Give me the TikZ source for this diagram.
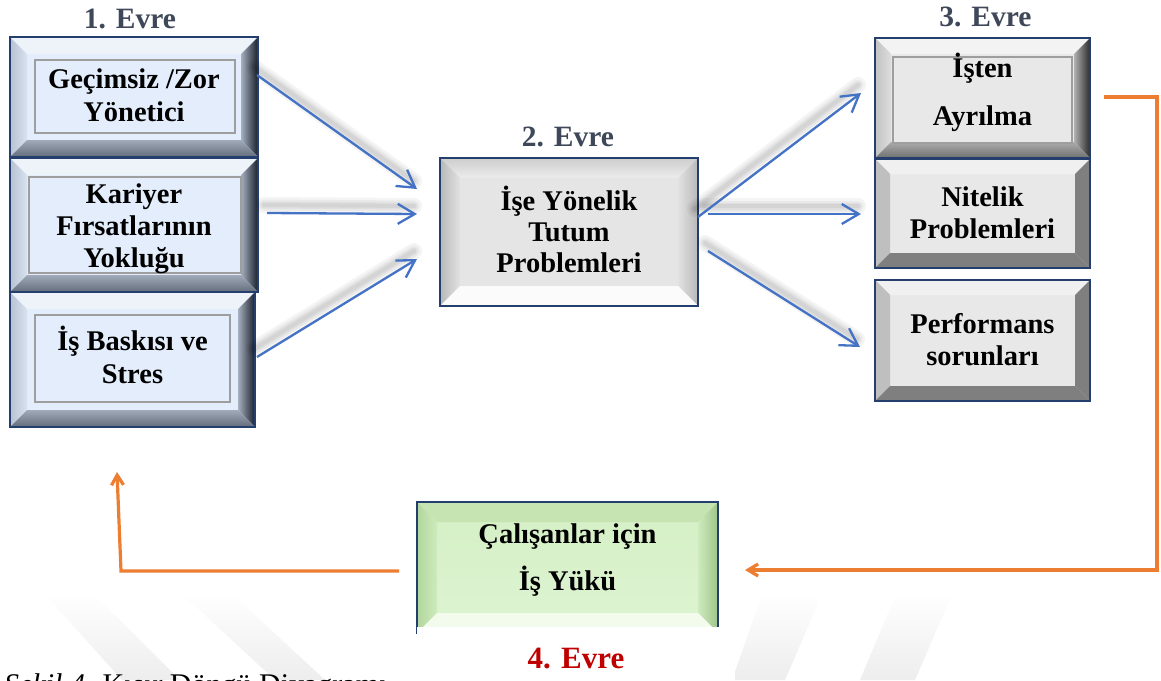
\documentclass[tikz,border=0pt]{standalone}
\usepackage{fontspec}
\setmainfont{Liberation Serif}
\usetikzlibrary{arrows.meta}

\definecolor{frame}{HTML}{243F6E}
\definecolor{flowblue}{HTML}{4472C4}
\definecolor{loopline}{HTML}{ED7D31}
\definecolor{phase}{HTML}{3E4859}
\definecolor{phasered}{HTML}{C00000}
\definecolor{paleblue}{HTML}{E3EDFB}
\definecolor{palegray}{HTML}{E8E8E8}
\definecolor{midgray}{HTML}{E5E5E5}
\definecolor{palegreen}{HTML}{D4EFC5}

\newcommand\boxfont{\fontsize{28.5}{32}\selectfont\bfseries}
\newcommand\phasefont{\fontsize{29.5}{34}\selectfont\bfseries}

% bevelled border: node, bevel width, top, left, right, bottom styles
\newcommand\bevel[6]{%
  \path[#3] (#1.north west) -- (#1.north east) -- ([shift={(-#2,#2)}]#1.north east) -- ([shift={(#2,#2)}]#1.north west) -- cycle;
  \path[#4] (#1.north west) -- ([shift={(#2,#2)}]#1.north west) -- ([shift={(#2,-#2)}]#1.south west) -- (#1.south west) -- cycle;
  \path[#5] (#1.north east) -- ([shift={(-#2,#2)}]#1.north east) -- ([shift={(-#2,-#2)}]#1.south east) -- (#1.south east) -- cycle;
  \path[#6] (#1.south west) -- ([shift={(#2,-#2)}]#1.south west) -- ([shift={(-#2,-#2)}]#1.south east) -- (#1.south east) -- cycle;
  \draw[frame, line width=2.2pt] (#1.north west) rectangle (#1.south east);
}

% soft shadow under a connector
\newcommand\hazeline[2]{%
  \foreach \w in {16,11,7,4}{%
    \draw[haze, line width=\w pt] ([shift={(-3,-8)}]#1) -- ([shift={(-3,-8)}]#2);}%
}

\tikzset{
  box/.style={inner sep=0pt, outer sep=0pt},
  boxtext/.style={inner sep=0pt, align=center, font=\boxfont, text=black},
  phasetext/.style={inner sep=0pt, anchor=base, font=\phasefont, text=phase},
  innerframe/.style={draw=black!38, line width=1.2pt},
  % bevel faces
  btop/.style={fill={rgb,255:red,238;green,243;blue,250}},
  bleft/.style={left color={rgb,255:red,183;green,194;blue,210}, right color={rgb,255:red,216;green,226;blue,240}},
  bright/.style={left color={rgb,255:red,165;green,175;blue,190}, right color={rgb,255:red,25;green,31;blue,44}},
  bbottom/.style={top color={rgb,255:red,160;green,170;blue,184}, bottom color={rgb,255:red,100;green,109;blue,124}},
  gtop/.style={fill={rgb,255:red,243;green,243;blue,243}},
  gleft/.style={left color={rgb,255:red,194;green,194;blue,194}, right color={rgb,255:red,221;green,221;blue,221}},
  gright/.style={left color={rgb,255:red,176;green,176;blue,176}, right color={rgb,255:red,43;green,43;blue,43}},
  gbottom/.style={top color={rgb,255:red,171;green,171;blue,171}, bottom color={rgb,255:red,112;green,112;blue,112}},
  ftop/.style={fill={rgb,255:red,240;green,240;blue,240}},
  fleft/.style={fill={rgb,255:red,191;green,191;blue,191}},
  fdark/.style={fill={rgb,255:red,127;green,127;blue,127}},
  mtop/.style={top color={rgb,255:red,205;green,205;blue,205}, bottom color={rgb,255:red,236;green,236;blue,236}},
  mleft/.style={left color={rgb,255:red,184;green,184;blue,184}, right color={rgb,255:red,226;green,226;blue,226}},
  mright/.style={left color={rgb,255:red,226;green,226;blue,226}, right color={rgb,255:red,184;green,184;blue,184}},
  mbottom/.style={fill={rgb,255:red,251;green,251;blue,251}},
  etop/.style={fill={rgb,255:red,198;green,228;blue,178}},
  eleft/.style={left color={rgb,255:red,178;green,214;blue,157}, right color={rgb,255:red,205;green,235;blue,189}},
  eright/.style={left color={rgb,255:red,205;green,235;blue,189}, right color={rgb,255:red,159;green,197;blue,138}},
  ebottom/.style={fill={rgb,255:red,242;green,251;blue,236}},
  flow/.style={draw=flowblue, line width=2.3pt, -{Straight Barb[length=17pt,width=20pt]}},
  feedback/.style={draw=loopline, line width=3.2pt, -{Straight Barb[length=10pt,width=12pt]}},
  haze/.style={draw=black, line cap=round, opacity=0.045},
  band/.style={top color=white, bottom color=black!7},
}

\begin{document}
\begin{tikzpicture}[x=1pt,y=-1pt]
\clip (0,0) rectangle (1161,680);
\fill[white] (0,0) rectangle (1161,680);

% faint background bands
\path[band] (43,592) -- (92,592) -- (180,680) -- (122,680) -- cycle;
\path[band] (180,592) -- (230,592) -- (325,680) -- (275,680) -- cycle;
\path[band] (763,592) -- (823,592) -- (785,680) -- (732,680) -- cycle;
\path[band] (897,592) -- (953,592) -- (915,680) -- (860,680) -- cycle;

% caption line at the foot
\node[inner sep=0pt, anchor=base west, font=\fontsize{30}{36}\selectfont] (caption) at (4,694) {\textit{Şekil 4.} Kısır Döngü Diyagramı};

% ---------- boxes ----------
\node[box, fill=paleblue, minimum width=248pt, minimum height=120pt] (gecim) at (134,97) {};
\node[box, fill=paleblue, minimum width=248pt, minimum height=134pt] (kariyer) at (134,225) {};
\node[box, fill=paleblue, minimum width=245pt, minimum height=135pt] (baski) at (132.5,359.5) {};
\node[box, fill=midgray, minimum width=258pt, minimum height=148pt] (tutum) at (569,232) {};
\node[box, fill=palegray, minimum width=215pt, minimum height=120pt] (isten) at (982.5,98) {};
\node[box, fill=palegray, minimum width=215pt, minimum height=109pt] (nitelik) at (982.5,213.5) {};
\node[box, fill=palegray, minimum width=215pt, minimum height=121pt] (perf) at (982.5,340.5) {};
\node[box, top color=palegreen, bottom color={rgb,255:red,222;green,244;blue,210}, minimum width=301pt, minimum height=131pt] (yuk) at (567.5,567.5) {};

\bevel{gecim}{17}{btop}{bleft}{bright}{bbottom}
\bevel{kariyer}{17}{btop}{bleft}{bright}{bbottom}
\bevel{baski}{17}{btop}{bleft}{bright}{bbottom}
\bevel{tutum}{20}{mtop}{mleft}{mright}{mbottom}
\bevel{isten}{16}{gtop}{gleft}{gright}{gbottom}
\bevel{nitelik}{15}{ftop}{fleft}{fdark}{fdark}
\bevel{perf}{15}{ftop}{fleft}{fdark}{fdark}
\bevel{yuk}{20}{etop}{eleft}{eright}{ebottom}

% inner frames
\draw[innerframe] ([shift={(25,23)}]gecim.north west) rectangle ([shift={(-23,-24)}]gecim.south east);
\draw[innerframe] ([shift={(19,19)}]kariyer.north west) rectangle ([shift={(-17,-19)}]kariyer.south east);
\draw[innerframe] ([shift={(25,23)}]baski.north west) rectangle ([shift={(-25,-25)}]baski.south east);
\draw[innerframe] ([shift={(18,19)}]isten.north west) rectangle ([shift={(-18,-15)}]isten.south east);

% box texts
\node[boxtext] (gecim-t) at (134,95) {Geçimsiz /Zor\\[1pt]Yönetici};
\node[boxtext] (kariyer-t) at (134,228.5) {Kariyer\\Fırsatlarının\\Yokluğu};
\node[boxtext] (baski-t) at (132.5,355) {İş Baskısı ve\\[1pt]Stres};
\node[boxtext] (tutum-t) at (569,229) {İşe Yönelik\\[-1pt]Tutum\\[-1pt]Problemleri};
\node[boxtext] (isten-t) at (982.5,92) {İşten\\[16pt]Ayrılma};
\node[boxtext] (nitelik-t) at (982.5,212.5) {Nitelik\\Problemleri};
\node[boxtext] (perf-t) at (982.5,339.5) {Performans\\sorunları};
\node[boxtext] (yuk-t) at (567.5,560) {Çalışanlar için\\[15pt]İş Yükü};

% phase titles
\node[phasetext] (evre1) at (130,28) {1. Evre};
\node[phasetext] (evre2) at (568,146) {2. Evre};
\node[phasetext] (evre3) at (985.5,27) {3. Evre};

% ---------- connectors ----------
\coordinate (a1s) at ([shift={(-1,-22)}]gecim.east);
\coordinate (a1e) at ([shift={(-23,-43)}]tutum.west);
\coordinate (a2s) at ([shift={(9,-12)}]kariyer.east);
\coordinate (a2e) at ([shift={(-23,-18)}]tutum.west);
\coordinate (a3s) at ([shift={(2,-2.5)}]baski.east);
\coordinate (a3e) at ([shift={(-23,27)}]tutum.west);
\coordinate (b1s) at ([shift={(0,-15)}]tutum.east);
\coordinate (b1e) at ([shift={(-14,-5)}]isten.west);
\coordinate (b2s) at ([shift={(10,-18)}]tutum.east);
\coordinate (b2e) at ([shift={(-14,0.5)}]nitelik.west);
\coordinate (b3s) at ([shift={(10,19)}]tutum.east);
\coordinate (b3e) at ([shift={(-15,6.5)}]perf.west);

\hazeline{a1s}{a1e}
\hazeline{a2s}{a2e}
\hazeline{a3s}{a3e}
\hazeline{b1s}{b1e}
\hazeline{b2s}{b2e}
\hazeline{b3s}{b3e}

\draw[flow] (a1s) -- (a1e);
\draw[flow] (a2s) -- (a2e);
\draw[flow] (a3s) -- (a3e);
\draw[flow] (b1s) -- (b1e);
\draw[flow] (b2s) -- (b2e);
\draw[flow] (b3s) -- (b3e);

% feedback loop
\coordinate (c1s) at ([shift={(14,-1)}]isten.east);
\coordinate (c1a) at ([shift={(67,-1)}]isten.east);
\coordinate (c1e) at ([shift={(27,2.5)}]yuk.east);
\coordinate (c2s) at ([shift={(-18,3.5)}]yuk.west);
\coordinate (c2c) at ([shift={(-11.5,144)}]baski.south);
\coordinate (c2e) at ([shift={(-15.5,45)}]baski.south);
\draw[feedback] (c1s) -- (c1a) |- (c1e);
\draw[feedback] (c2s) -- (c2c) -- (c2e);

% phase 4 label
\node[box, fill=white, minimum width=318pt, minimum height=63pt] (label4) at (576,658.5) {};
\node[phasetext, text=phasered, font=\fontsize{31}{36}\selectfont\bfseries] (evre4) at (576,668) {4. Evre};
\end{tikzpicture}
\end{document}
